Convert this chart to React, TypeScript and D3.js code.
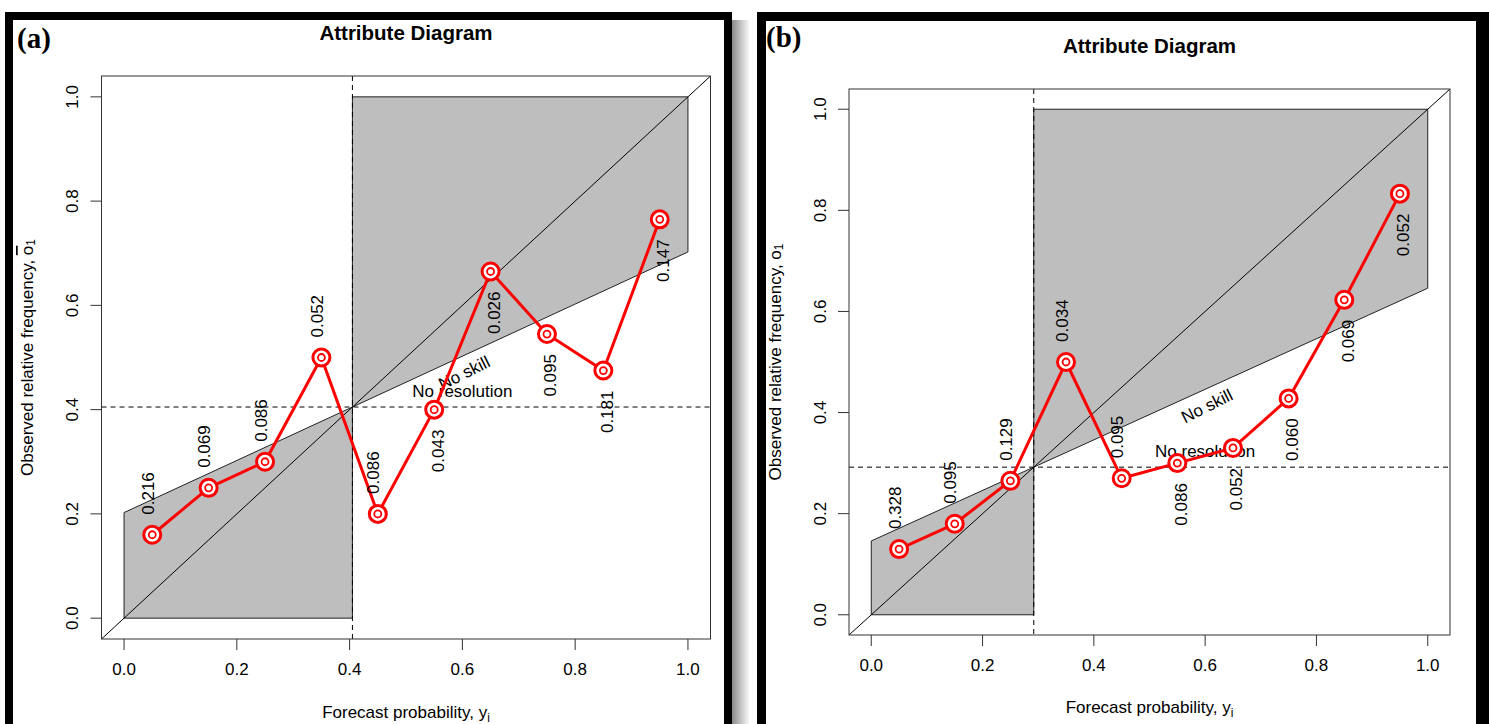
import React, { useEffect, useRef } from 'react';
import * as d3 from 'd3';

// forecast probability bins (centres) and axis ticks
const binCenters = [0.05, 0.15, 0.25, 0.35, 0.45, 0.55, 0.65, 0.75, 0.85, 0.95];
const axisTicks = [0, 0.2, 0.4, 0.6, 0.8, 1.0];

// panel (a)
const obsFreqA = [0.16, 0.25, 0.30, 0.50, 0.20, 0.40, 0.665, 0.545, 0.475, 0.765];
const binShareA = ['0.216', '0.069', '0.086', '0.052', '0.086', '0.043', '0.026', '0.095', '0.181', '0.147'];
const climA = 0.405;

// panel (b)
const obsFreqB = [0.13, 0.18, 0.265, 0.50, 0.27, 0.30, 0.33, 0.428, 0.623, 0.833];
const binShareB = ['0.328', '0.095', '0.129', '0.034', '0.095', '0.086', '0.052', '0.060', '0.069', '0.052'];
const climB = 0.292;

const FONT = '"Liberation Sans", Arial, sans-serif';

const panels = [
  {
    tag: '(a)', obs: obsFreqA, share: binShareA, clim: climA,
    frameL: 5, frameR: 732, frameW: 8, left: 101.5, right: 710.5, top: 76, bottom: 639,
    titleY: 40, xlabY: 718, ylabX: 27, yTickX: 72, tagX: 17, tagY: 48,
  },
  {
    tag: '(b)', obs: obsFreqB, share: binShareB, clim: climB,
    frameL: 757, frameR: 1489, frameW: 9, left: 849, right: 1450, top: 89, bottom: 635,
    titleY: 53, xlabY: 713, ylabX: 775, yTickX: 820, tagX: 766, tagY: 47,
  },
];

type Panel = typeof panels[number];

function drawPanel(svg: d3.Selection<SVGSVGElement, unknown, null, undefined>, p: Panel, idx: number) {
  const g = svg.append('g');
  const x = d3.scaleLinear().domain([-0.04, 1.04]).range([p.left, p.right]);
  const y = d3.scaleLinear().domain([-0.04, 1.04]).range([p.bottom, p.top]);
  const cx = (p.left + p.right) / 2;
  const cy = (p.top + p.bottom) / 2;

  // frame
  g.append('rect')
    .attr('x', p.frameL + p.frameW / 2).attr('y', 12 + p.frameW / 2)
    .attr('width', p.frameR - p.frameL - p.frameW).attr('height', 760)
    .attr('fill', '#fff').attr('stroke', '#000').attr('stroke-width', p.frameW);

  const clipId = `clip-${idx}`;
  svg.append('defs').append('clipPath').attr('id', clipId)
    .append('rect')
    .attr('x', p.left).attr('y', p.top)
    .attr('width', p.right - p.left).attr('height', p.bottom - p.top);

  const plot = g.append('g').attr('clip-path', `url(#${clipId})`);

  // skill region
  const a = (1 + p.clim) / 2;
  const b = p.clim / 2;
  const poly: [number, number][] = [[p.clim, 0], [p.clim, 1], [1, 1], [1, a], [0, b], [0, 0]];
  plot.append('path')
    .attr('d', d3.line()(poly.map(d => [x(d[0]), y(d[1])] as [number, number])) + 'Z')
    .attr('fill', '#bebebe').attr('stroke', '#222').attr('stroke-width', 1);

  // 1:1 line
  plot.append('line')
    .attr('x1', x(-0.04)).attr('y1', y(-0.04)).attr('x2', x(1.04)).attr('y2', y(1.04))
    .attr('stroke', '#000').attr('stroke-width', 1);

  // climatology lines
  plot.append('line')
    .attr('x1', p.left).attr('x2', p.right).attr('y1', y(p.clim)).attr('y2', y(p.clim))
    .attr('stroke', '#000').attr('stroke-width', 1).attr('stroke-dasharray', '5,4');
  plot.append('line')
    .attr('y1', p.top).attr('y2', p.bottom).attr('x1', x(p.clim)).attr('x2', x(p.clim))
    .attr('stroke', '#000').attr('stroke-width', 1).attr('stroke-dasharray', '5,4');

  // annotations
  const nsY = b + (a - b) * 0.6;
  g.append('text')
    .attr('transform', `translate(${x(0.6) + 2},${y(nsY) + 17}) rotate(${-Math.atan(a - b) * 180 / Math.PI})`)
    .attr('text-anchor', 'middle').attr('dominant-baseline', 'central')
    .style('font-family', FONT).style('font-size', '17px')
    .text('No skill');
  g.append('text')
    .attr('x', x(0.6)).attr('y', y(p.clim) - 16)
    .attr('text-anchor', 'middle').attr('dominant-baseline', 'central')
    .style('font-family', FONT).style('font-size', '17px')
    .text('No resolution');

  // reliability curve
  const pts = binCenters.map((c, i) => [x(c), y(p.obs[i])] as [number, number]);
  g.append('path')
    .attr('d', d3.line()(pts))
    .attr('fill', 'none').attr('stroke', '#ff0000').attr('stroke-width', 3)
    .attr('stroke-linejoin', 'round');
  g.selectAll('circle.outer').data(pts).enter().append('circle')
    .attr('class', 'outer')
    .attr('cx', d => d[0]).attr('cy', d => d[1]).attr('r', 8.5)
    .attr('fill', '#fff').attr('stroke', '#ff0000').attr('stroke-width', 3);
  g.selectAll('circle.inner').data(pts).enter().append('circle')
    .attr('class', 'inner')
    .attr('cx', d => d[0]).attr('cy', d => d[1]).attr('r', 3.5)
    .attr('fill', '#fff').attr('stroke', '#ff0000').attr('stroke-width', 1.8);

  // bin share labels (first half above, second half below)
  g.selectAll('text.share').data(p.share).enter().append('text')
    .attr('class', 'share')
    .attr('transform', (d, i) => {
      const above = i < 5;
      const tx = pts[i][0] + (above ? -4 : 4);
      const ty = pts[i][1] + (above ? -20 : 20);
      return `translate(${tx},${ty}) rotate(-90)`;
    })
    .attr('text-anchor', (d, i) => (i < 5 ? 'start' : 'end'))
    .attr('dominant-baseline', 'central')
    .style('font-family', FONT).style('font-size', '17px')
    .text(d => d);

  // box
  g.append('rect')
    .attr('x', p.left).attr('y', p.top)
    .attr('width', p.right - p.left).attr('height', p.bottom - p.top)
    .attr('fill', 'none').attr('stroke', '#333').attr('stroke-width', 1);

  // x axis
  const xa = g.append('g');
  xa.selectAll('line').data(axisTicks).enter().append('line')
    .attr('x1', d => x(d)).attr('x2', d => x(d))
    .attr('y1', p.bottom).attr('y2', p.bottom + 11)
    .attr('stroke', '#333');
  xa.selectAll('text').data(axisTicks).enter().append('text')
    .attr('x', d => x(d)).attr('y', p.bottom + 36)
    .attr('text-anchor', 'middle')
    .style('font-family', FONT).style('font-size', '17px')
    .text(d => d.toFixed(1));

  // y axis
  const ya = g.append('g');
  ya.selectAll('line').data(axisTicks).enter().append('line')
    .attr('y1', d => y(d)).attr('y2', d => y(d))
    .attr('x1', p.left).attr('x2', p.left - 11)
    .attr('stroke', '#333');
  ya.selectAll('text').data(axisTicks).enter().append('text')
    .attr('transform', d => `translate(${p.yTickX},${y(d)}) rotate(-90)`)
    .attr('text-anchor', 'middle').attr('dominant-baseline', 'central')
    .style('font-family', FONT).style('font-size', '17px')
    .text(d => d.toFixed(1));

  // titles
  g.append('text')
    .attr('x', cx).attr('y', p.titleY)
    .attr('text-anchor', 'middle')
    .style('font-family', FONT).style('font-size', '20.5px').style('font-weight', 'bold')
    .text('Attribute Diagram');

  const xl = g.append('text')
    .attr('x', cx).attr('y', p.xlabY)
    .attr('text-anchor', 'middle')
    .style('font-family', FONT).style('font-size', '17px');
  xl.append('tspan').text('Forecast probability, y');
  xl.append('tspan').attr('dy', 4).style('font-size', '12px').text('i');

  const yl = g.append('text')
    .attr('transform', `translate(${p.ylabX},${cy}) rotate(-90)`)
    .attr('text-anchor', 'middle').attr('dominant-baseline', 'central')
    .style('font-family', FONT).style('font-size', '17px');
  yl.append('tspan').text('Observed relative frequency, ');
  yl.append('tspan').style('text-decoration', 'overline').text('o');
  yl.append('tspan').attr('dy', 4).style('font-size', '12px').text('1');

  g.append('text')
    .attr('x', p.tagX).attr('y', p.tagY)
    .style('font-family', '"Liberation Serif", "Times New Roman", serif')
    .style('font-size', '29px').style('font-weight', 'bold')
    .text(p.tag);
}

const App = () => {
  const svgRef = useRef<SVGSVGElement>(null);

  useEffect(() => {
    const svg = d3.select(svgRef.current!);
    svg.selectAll('*').remove();

    svg.append('rect').attr('width', 1489).attr('height', 724).attr('fill', '#fff');

    // soft shadow right of panel (a)
    const grad = svg.append('defs').append('linearGradient').attr('id', 'shadow');
    grad.append('stop').attr('offset', '0%').attr('stop-color', '#8a8a8a');
    grad.append('stop').attr('offset', '100%').attr('stop-color', '#fff');
    svg.append('rect')
      .attr('x', 732).attr('y', 20).attr('width', 18).attr('height', 704)
      .attr('fill', 'url(#shadow)');

    panels.forEach((p, i) => drawPanel(svg, p, i));

    // heavier outer edge on the far right
    svg.append('rect').attr('x', 1476).attr('y', 12).attr('width', 13).attr('height', 712).attr('fill', '#000');
  }, []);

  return (
    <div style={{ position: 'absolute', left: 0, top: 0 }}>
      <svg ref={svgRef} width={1489} height={724} style={{ display: 'block' }} />
    </div>
  );
};

export default App;
